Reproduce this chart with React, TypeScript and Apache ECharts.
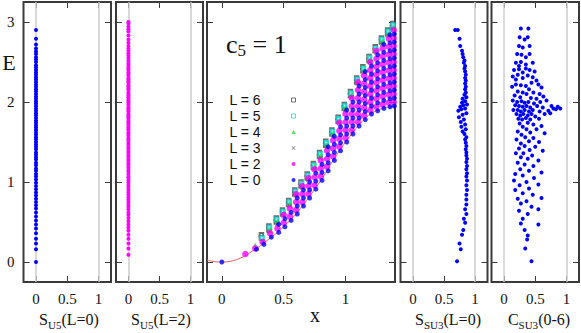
import React, { useEffect, useRef } from "react";
import * as echarts from "echarts";

// ---------------- data ----------------
const E_TICKS = [0, 1, 2, 3];
const SIDE_X_TICKS = [0, 0.5, 1];
const CENTER_X_TICKS = [0, 0.5, 1];

// L=0 energies (panel S_U5(L=0), all at S=0)
const E_L0 = [
  0, 0.16, 0.23, 0.29, 0.36, 0.42, 0.47, 0.52, 0.57, 0.62, 0.67, 0.71, 0.75, 0.79, 0.83, 0.87,
  0.91, 0.95, 0.99, 1.03, 1.07, 1.1, 1.14, 1.17, 1.21, 1.24, 1.28, 1.31, 1.34, 1.37, 1.41, 1.44,
  1.47, 1.5, 1.53, 1.56, 1.59, 1.62, 1.65, 1.68, 1.71, 1.74, 1.77, 1.8, 1.83, 1.86, 1.89, 1.92,
  1.95, 1.98, 2.01, 2.04, 2.07, 2.1, 2.13, 2.16, 2.19, 2.22, 2.25, 2.28, 2.31, 2.34, 2.37, 2.4,
  2.43, 2.46, 2.5, 2.53, 2.56, 2.6, 2.63, 2.67, 2.72, 2.79, 2.9,
];
const S_U5_L0 = 0;

// L=2 energies (panel S_U5(L=2), all at S=0)
const E_L2 = [
  0.09, 0.17, 0.23, 0.29, 0.34, 0.39, 0.43, 0.47, 0.51, 0.55, 0.59, 0.62, 0.66, 0.69, 0.72, 0.75,
  0.78, 0.81, 0.84, 0.87, 0.9, 0.93, 0.96, 0.99, 1.02, 1.05, 1.07, 1.1, 1.13, 1.15, 1.18, 1.21,
  1.23, 1.26, 1.28, 1.31, 1.33, 1.36, 1.38, 1.41, 1.43, 1.46, 1.48, 1.51, 1.53, 1.55, 1.58, 1.6,
  1.62, 1.65, 1.67, 1.69, 1.72, 1.74, 1.76, 1.79, 1.81, 1.83, 1.85, 1.88, 1.9, 1.92, 1.94, 1.97,
  1.99, 2.01, 2.03, 2.06, 2.08, 2.1, 2.12, 2.15, 2.17, 2.19, 2.21, 2.24, 2.26, 2.28, 2.3, 2.33,
  2.35, 2.37, 2.4, 2.42, 2.44, 2.47, 2.49, 2.52, 2.55, 2.58, 2.61, 2.64, 2.67, 2.7, 2.74, 2.78,
  2.83, 2.88, 2.91, 2.94, 2.98, 3.0,
];
const S_U5_L2 = 0;

// S_SU3(L=0): [S, E]
const S_SU3_L0: [number, number][] = [
  [0.71, 0.01], [0.77, 0.16], [0.75, 0.23], [0.79, 0.34], [0.81, 0.4], [0.84, 0.49], [0.82, 0.54],
  [0.86, 0.6], [0.84, 0.66], [0.86, 0.72], [0.86, 0.78], [0.86, 0.84], [0.87, 0.9], [0.86, 0.96],
  [0.87, 1.02], [0.86, 1.07], [0.87, 1.11], [0.86, 1.16], [0.87, 1.2], [0.86, 1.25], [0.87, 1.29],
  [0.86, 1.33], [0.86, 1.37], [0.85, 1.41], [0.86, 1.45], [0.85, 1.49], [0.84, 1.53], [0.86, 1.56],
  [0.83, 1.6], [0.8, 1.63], [0.85, 1.66], [0.78, 1.69], [0.84, 1.72], [0.77, 1.75], [0.82, 1.78],
  [0.74, 1.81], [0.8, 1.84], [0.86, 1.86], [0.73, 1.89], [0.78, 1.91], [0.84, 1.92], [0.76, 1.94],
  [0.81, 1.96], [0.87, 1.97], [0.79, 1.99], [0.84, 2.01], [0.8, 2.04], [0.86, 2.06], [0.83, 2.09],
  [0.85, 2.12], [0.84, 2.16], [0.85, 2.19], [0.84, 2.23], [0.85, 2.27], [0.84, 2.3], [0.85, 2.34],
  [0.84, 2.38], [0.83, 2.42], [0.84, 2.45], [0.82, 2.49], [0.83, 2.52], [0.81, 2.56], [0.8, 2.6],
  [0.79, 2.64], [0.76, 2.7], [0.75, 2.79], [0.72, 2.9], [0.68, 2.9],
];

// C_SU3(0-6): [C, E]
const C_SU3: [number, number][] = [
  [0.27, 2.92], [0.39, 2.92], [0.25, 2.81], [0.38, 2.81], [0.33, 2.78], [0.24, 2.7], [0.41, 2.7],
  [0.3, 2.68], [0.21, 2.6], [0.28, 2.59], [0.41, 2.6], [0.35, 2.56], [0.19, 2.49], [0.27, 2.5],
  [0.35, 2.47], [0.46, 2.49], [0.24, 2.45], [0.16, 2.4], [0.24, 2.41], [0.35, 2.42], [0.41, 2.4],
  [0.49, 2.38], [0.3, 2.37], [0.14, 2.32], [0.22, 2.34], [0.3, 2.3], [0.38, 2.33], [0.46, 2.31],
  [0.19, 2.28], [0.52, 2.27], [0.19, 2.22], [0.27, 2.21], [0.35, 2.2], [0.44, 2.24], [0.55, 2.22],
  [0.13, 2.19], [0.4, 2.16], [0.6, 2.18], [0.22, 2.13], [0.3, 2.12], [0.36, 2.1], [0.47, 2.12],
  [0.57, 2.1], [0.17, 2.08], [0.26, 2.06], [0.43, 2.05], [0.52, 2.04], [0.63, 2.07], [0.14, 2.02],
  [0.21, 2.0], [0.28, 2.01], [0.33, 1.99], [0.39, 2.0], [0.48, 1.98], [0.58, 2.0], [0.68, 2.02],
  [0.18, 1.96], [0.24, 1.95], [0.3, 1.94], [0.36, 1.95], [0.42, 1.93], [0.53, 1.95], [0.62, 1.93],
  [0.15, 1.9], [0.22, 1.9], [0.27, 1.88], [0.33, 1.9], [0.4, 1.88], [0.46, 1.9], [0.57, 1.88],
  [0.2, 1.85], [0.26, 1.83], [0.31, 1.85], [0.38, 1.83], [0.44, 1.85], [0.5, 1.82], [0.65, 1.85],
  [0.23, 1.79], [0.29, 1.78], [0.35, 1.8], [0.42, 1.78], [0.56, 1.79], [0.74, 1.86], [0.79, 1.92],
  [0.83, 1.91], [0.86, 1.94], [0.9, 1.92], [0.76, 1.95], [0.71, 1.89], [0.38, 1.74], [0.25, 1.73],
  [0.47, 1.72], [0.6, 1.7], [0.3, 1.69], [0.36, 1.66], [0.52, 1.66], [0.22, 1.63], [0.42, 1.62],
  [0.28, 1.59], [0.65, 1.61], [0.34, 1.56], [0.47, 1.55], [0.2, 1.53], [0.4, 1.51], [0.56, 1.5],
  [0.27, 1.48], [0.33, 1.45], [0.5, 1.44], [0.24, 1.42], [0.41, 1.4], [0.62, 1.39], [0.19, 1.36],
  [0.31, 1.36], [0.45, 1.33], [0.27, 1.31], [0.38, 1.29], [0.55, 1.27], [0.22, 1.24], [0.33, 1.22],
  [0.47, 1.2], [0.26, 1.16], [0.4, 1.14], [0.6, 1.12], [0.18, 1.1], [0.3, 1.08], [0.48, 1.05],
  [0.16, 1.02], [0.36, 1.0], [0.25, 0.96], [0.55, 0.97], [0.4, 0.92], [0.18, 0.9], [0.3, 0.86],
  [0.46, 0.84], [0.6, 0.8], [0.22, 0.79], [0.36, 0.76], [0.27, 0.73], [0.44, 0.69], [0.55, 0.66],
  [0.24, 0.64], [0.38, 0.6], [0.3, 0.54], [0.27, 0.48], [0.55, 0.47], [0.33, 0.4], [0.38, 0.33],
  [0.37, 0.28], [0.34, 0.17], [0.44, 0.01],
];

// central panel: lower boundary curve [x, E]
const LOWER_CURVE: [number, number][] = [
  [-0.12, 0.025], [-0.06, 0.006], [0, 0], [0.05, 0.004], [0.1, 0.02], [0.15, 0.05], [0.2, 0.09],
  [0.25, 0.14], [0.3, 0.19], [0.35, 0.25], [0.4, 0.31], [0.45, 0.37], [0.5, 0.44], [0.55, 0.52],
  [0.6, 0.6], [0.65, 0.7], [0.7, 0.8], [0.75, 0.91], [0.8, 1.02], [0.85, 1.14], [0.9, 1.27],
  [0.95, 1.39], [1.0, 1.5], [1.05, 1.6], [1.1, 1.7], [1.15, 1.78], [1.2, 1.85], [1.25, 1.89],
  [1.3, 1.92], [1.35, 1.94], [1.4, 1.95],
];

// central panel, L=0 states by column: [x, energies]
const L0_COLS: [number, number[]][] = [
  [0.0, [0.0]], [0.28, [0.16]], [0.34, [0.22]], [0.4, [0.31]], [0.46, [0.37, 0.47]],
  [0.51, [0.44, 0.54]], [0.56, [0.52, 0.62]], [0.61, [0.6, 0.7, 0.8]], [0.66, [0.7, 0.8, 0.9]],
  [0.71, [0.8, 0.9, 1.0]], [0.76, [0.91, 1.01, 1.11]], [0.81, [1.02, 1.12, 1.22]],
  [0.86, [1.14, 1.24, 1.34, 1.44]], [0.91, [1.27, 1.37, 1.47, 1.57]], [0.96, [1.39, 1.49, 1.59, 1.69]],
  [1.01, [1.5, 1.6, 1.7, 1.8, 1.9]], [1.06, [1.6, 1.7, 1.8, 1.9, 2.0]],
  [1.11, [1.7, 1.8, 1.9, 2.0, 2.1, 2.2]], [1.16, [1.78, 1.88, 1.98, 2.08, 2.18, 2.28, 2.38]],
  [1.21, [1.85, 1.95, 2.05, 2.15, 2.25, 2.35, 2.45]],
  [1.26, [1.89, 1.99, 2.09, 2.19, 2.29, 2.39, 2.49, 2.59]],
  [1.31, [1.92, 2.02, 2.12, 2.22, 2.32, 2.42, 2.52, 2.62, 2.72]],
  [1.36, [1.94, 2.04, 2.14, 2.24, 2.34, 2.44, 2.54, 2.64, 2.74, 2.84]],
  [1.395, [1.95, 2.05, 2.15, 2.25, 2.35, 2.45, 2.55, 2.65, 2.75, 2.85]],
];

// central panel, L=2 states by column
const L2_COLS: [number, number[]][] = [
  [0.19, [0.1]], [0.27, [0.17]], [0.33, [0.25]], [0.39, [0.36]], [0.45, [0.42]],
  [0.5, [0.49, 0.59]], [0.55, [0.57, 0.67]], [0.6, [0.65, 0.75, 0.85]], [0.65, [0.75, 0.85, 0.95]],
  [0.7, [0.85, 0.95, 1.05]], [0.75, [0.96, 1.06, 1.16]], [0.8, [1.07, 1.17, 1.27]],
  [0.85, [1.19, 1.29, 1.39]], [0.9, [1.32, 1.42, 1.52]], [0.95, [1.44, 1.54, 1.64, 1.74]],
  [1.0, [1.55, 1.65, 1.75, 1.85]], [1.05, [1.65, 1.75, 1.85, 1.95, 2.05]],
  [1.1, [1.75, 1.85, 1.95, 2.05, 2.15, 2.25]], [1.15, [1.83, 1.93, 2.03, 2.13, 2.23, 2.33]],
  [1.2, [1.9, 2.0, 2.1, 2.2, 2.3, 2.4, 2.5]], [1.25, [1.94, 2.04, 2.14, 2.24, 2.34, 2.44, 2.54, 2.64]],
  [1.3, [1.97, 2.07, 2.17, 2.27, 2.37, 2.47, 2.57, 2.67]],
  [1.35, [1.99, 2.09, 2.19, 2.29, 2.39, 2.49, 2.59, 2.69, 2.79]],
  [1.39, [2.0, 2.1, 2.2, 2.3, 2.4, 2.5, 2.6, 2.7, 2.8, 2.9]],
];

// central panel, L=3..6 states near the upper edge: [x, E]
const L3_PTS: [number, number][] = [
  [0.33, 0.26], [0.39, 0.38], [0.45, 0.48], [0.5, 0.58], [0.55, 0.7], [0.6, 0.83], [0.65, 0.93],
  [0.7, 1.03], [0.75, 1.16], [0.8, 1.3], [0.85, 1.44], [0.9, 1.58], [0.95, 1.74], [1.0, 1.9],
  [1.05, 2.06], [1.1, 2.23], [1.15, 2.37], [1.2, 2.5], [1.25, 2.62], [1.3, 2.73], [1.35, 2.83],
  [1.39, 2.91],
];
const L4_PTS: [number, number][] = [
  [0.27, 0.21], [0.33, 0.27], [0.39, 0.41], [0.45, 0.51], [0.5, 0.61], [0.55, 0.73], [0.6, 0.86],
  [0.65, 0.96], [0.7, 1.06], [0.75, 1.19], [0.8, 1.33], [0.85, 1.47], [0.9, 1.61], [0.95, 1.77],
  [1.0, 1.93], [1.05, 2.09], [1.1, 2.26], [1.15, 2.4], [1.2, 2.53], [1.25, 2.65], [1.3, 2.76],
  [1.35, 2.86], [1.39, 2.94],
];
const L5_PTS: [number, number][] = [
  [0.325, 0.3], [0.385, 0.43], [0.445, 0.53], [0.495, 0.63], [0.545, 0.75], [0.595, 0.88],
  [0.645, 0.98], [0.695, 1.08], [0.745, 1.21], [0.795, 1.35], [0.845, 1.49], [0.895, 1.63],
  [0.945, 1.79], [0.995, 1.95], [1.045, 2.11], [1.095, 2.28], [1.145, 2.42], [1.195, 2.55],
  [1.245, 2.67], [1.295, 2.78], [1.345, 2.88], [1.385, 2.96],
];
const L6_PTS: [number, number][] = [
  [0.32, 0.34], [0.32, 0.3], [0.38, 0.45], [0.38, 0.4], [0.44, 0.55], [0.44, 0.5], [0.49, 0.65],
  [0.49, 0.6], [0.54, 0.77], [0.54, 0.72], [0.59, 0.9], [0.59, 0.85], [0.64, 1.0], [0.64, 0.95],
  [0.69, 1.1], [0.69, 1.05], [0.74, 1.23], [0.74, 1.18], [0.79, 1.37], [0.79, 1.32], [0.84, 1.51],
  [0.84, 1.46], [0.89, 1.65], [0.89, 1.6], [0.94, 1.81], [0.94, 1.76], [0.99, 1.97], [0.99, 1.92],
  [1.04, 2.13], [1.04, 2.08], [1.09, 2.3], [1.09, 2.25], [1.14, 2.44], [1.14, 2.39], [1.19, 2.57],
  [1.19, 2.52], [1.24, 2.69], [1.24, 2.64], [1.29, 2.8], [1.29, 2.75], [1.34, 2.9], [1.34, 2.85],
  [1.38, 2.98], [1.38, 2.93],
];

const LEGEND_NAMES = ["L = 6", "L = 5", "L = 4", "L = 3", "L = 2", "L = 0"];

// ---------------- layout / style ----------------
const SERIF = "'Liberation Serif', 'DejaVu Serif', serif";
const SANS = "'Liberation Sans', 'DejaVu Sans', sans-serif";
const FRAME = "#3a3a3a";
const X_PATH = "path://M0,1L1,0L5,4L9,0L10,1L6,5L10,9L9,10L5,6L1,10L0,9L4,5Z";

const PANELS = [
  { left: 23.5, width: 87.5, xMin: -0.2, xMax: 1.2, ticks: SIDE_X_TICKS },
  { left: 116, width: 87, xMin: -0.2, xMax: 1.2, ticks: SIDE_X_TICKS },
  { left: 207, width: 188, xMin: -0.12, xMax: 1.4, ticks: CENTER_X_TICKS },
  { left: 400.5, width: 87, xMin: -0.2, xMax: 1.2, ticks: SIDE_X_TICKS },
  { left: 491.5, width: 87.5, xMin: -0.2, xMax: 1.2, ticks: SIDE_X_TICKS },
];

const colsToPoints = (cols: [number, number[]][]) =>
  cols.flatMap(([x, es]) => es.map((e) => [x, e]));

function buildOption() {
  const grid = PANELS.map((p) => ({
    left: p.left,
    width: p.width,
    top: 2,
    height: 280,
    show: true,
    borderColor: FRAME,
    borderWidth: 2,
    backgroundColor: "transparent",
  }));
  const xAxis: any[] = [];
  const yAxis: any[] = [];
  PANELS.forEach((p, i) => {
    const tick = (vals: number[]) => ({
      show: true,
      inside: true,
      length: 6,
      customValues: vals,
      lineStyle: { color: FRAME, width: 1 },
    });
    const line = { show: false, onZero: false };
    xAxis.push({
      gridIndex: i, type: "value", min: p.xMin, max: p.xMax, position: "bottom",
      axisLine: line, splitLine: { show: false }, axisTick: tick(p.ticks),
      axisLabel: {
        show: true, customValues: p.ticks, margin: 9, fontFamily: SERIF, fontSize: 15, color: "#111",
        formatter: (v: number) => String(v),
      },
    });
    xAxis.push({
      gridIndex: i, type: "value", min: p.xMin, max: p.xMax, position: "top",
      axisLine: line, splitLine: { show: false }, axisTick: tick(p.ticks),
      axisLabel: { show: false },
    });
    yAxis.push({
      gridIndex: i, type: "value", min: -0.25, max: 3.25, position: "left",
      axisLine: line, splitLine: { show: false }, axisTick: tick(E_TICKS),
      axisLabel: {
        show: i === 0, customValues: E_TICKS, margin: 9, fontFamily: SERIF, fontSize: 15, color: "#111",
      },
    });
    yAxis.push({
      gridIndex: i, type: "value", min: -0.25, max: 3.25, position: "right",
      axisLine: line, splitLine: { show: false }, axisTick: tick(E_TICKS),
      axisLabel: { show: false },
    });
  });

  const gridLines = {
    silent: true,
    z: 1,
    symbol: ["none", "none"],
    label: { show: false },
    lineStyle: { color: "#cdcdcd", width: 1.5, type: "solid" },
    data: [{ xAxis: 0 }, { xAxis: 1 }],
  };

  const side = (idx: number, data: number[][], color: string, name: string) => ({
    type: "scatter", name, xAxisIndex: idx * 2, yAxisIndex: idx * 2, data,
    symbol: "circle", symbolSize: 4, z: 3, silent: true,
    itemStyle: { color, opacity: 1 },
    markLine: gridLines,
  });

  const c = 4;
  const series: any[] = [
    side(0, E_L0.map((e) => [S_U5_L0, e]), "#0000ff", "S_U5 L0"),
    side(1, E_L2.map((e) => [S_U5_L2, e]), "#ff00ff", "S_U5 L2"),
    {
      type: "line", name: "lower", xAxisIndex: c, yAxisIndex: c, data: LOWER_CURVE,
      smooth: true, showSymbol: false, z: 2, silent: true,
      lineStyle: { color: "#f05a5a", width: 1 },
    },
    {
      type: "scatter", name: "L = 6", xAxisIndex: c, yAxisIndex: c, data: L6_PTS,
      symbol: "emptyRect", symbolSize: 3.5, z: 3, silent: true,
      itemStyle: { color: "#4a4a4a", borderWidth: 1 },
    },
    {
      type: "scatter", name: "L = 5", xAxisIndex: c, yAxisIndex: c, data: L5_PTS,
      symbol: "emptyRect", symbolSize: 3.5, z: 3, silent: true,
      itemStyle: { color: "#00e0e0", borderWidth: 1 },
    },
    {
      type: "scatter", name: "L = 4", xAxisIndex: c, yAxisIndex: c, data: L4_PTS,
      symbol: "triangle", symbolSize: 5, z: 3, silent: true,
      itemStyle: { color: "#22dd22" },
    },
    {
      type: "scatter", name: "L = 3", xAxisIndex: c, yAxisIndex: c, data: L3_PTS,
      symbol: X_PATH, symbolSize: 5, z: 3, silent: true,
      itemStyle: { color: "#555555" },
    },
    {
      type: "scatter", name: "L = 2", xAxisIndex: c, yAxisIndex: c, data: colsToPoints(L2_COLS),
      symbol: "circle", symbolSize: 6.5, z: 3, silent: true,
      itemStyle: { color: "#ff00ff" },
    },
    {
      type: "scatter", name: "L = 0", xAxisIndex: c, yAxisIndex: c, data: colsToPoints(L0_COLS),
      symbol: "circle", symbolSize: 5, z: 3, silent: true,
      itemStyle: { color: "#0000ff" },
    },
    side(3, S_SU3_L0, "#0000ff", "S_SU3 L0"),
    side(4, C_SU3, "#0000ff", "C_SU3"),
  ];

  const titleRich = (main: number, sub: number) => ({
    m: { fontFamily: SERIF, fontSize: main, lineHeight: 22, fill: "#111", verticalAlign: "middle" },
    s: { fontFamily: SERIF, fontSize: sub, lineHeight: 11, fill: "#111", verticalAlign: "bottom" },
  });

  const graphic: any[] = [
    {
      type: "text", x: 9, y: 62, silent: true,
      style: { text: "E", font: `22px ${SERIF}`, fill: "#111", align: "center", verticalAlign: "middle" },
    },
    {
      type: "text", x: 226, y: 44, silent: true,
      style: {
        text: "{m|c}{s|5}{m| = 1}", align: "left", verticalAlign: "middle",
        rich: {
          m: { fontFamily: SERIF, fontSize: 26, lineHeight: 30, fill: "#111", verticalAlign: "middle" },
          s: { fontFamily: SERIF, fontSize: 17, lineHeight: 7, fill: "#111", verticalAlign: "bottom" },
        },
      },
    },
    {
      type: "text", x: 315, y: 315, silent: true,
      style: { text: "x", font: `20px ${SERIF}`, fill: "#111", align: "center", verticalAlign: "middle" },
    },
    ...[
      { x: 69, t: "{m|S}{s|U5}{m|(L=0)}" },
      { x: 161, t: "{m|S}{s|U5}{m|(L=2)}" },
      { x: 448, t: "{m|S}{s|SU3}{m|(L=0)}" },
      { x: 539, t: "{m|C}{s|SU3}{m|(0-6)}" },
    ].map((d) => ({
      type: "text", x: d.x, y: 319, silent: true,
      style: { text: d.t, align: "center", verticalAlign: "middle", rich: titleRich(16, 11) },
    })),
  ];

  const legendIcons: Record<string, any> = {
    "L = 6": { icon: "rect", itemStyle: { color: "#ffffff", borderColor: "#4a4a4a", borderWidth: 1 } },
    "L = 5": { icon: "rect", itemStyle: { color: "#ffffff", borderColor: "#00e0e0", borderWidth: 1 } },
    "L = 4": { icon: "triangle", itemStyle: { color: "#22dd22", borderWidth: 0 } },
    "L = 3": { icon: X_PATH, itemStyle: { color: "#555555", borderWidth: 0 } },
    "L = 2": { icon: "circle", itemStyle: { color: "#ff00ff", borderWidth: 0 } },
    "L = 0": { icon: "circle", itemStyle: { color: "#0000ff", borderWidth: 0 } },
  };

  return {
    animation: false,
    backgroundColor: "#ffffff",
    grid,
    xAxis,
    yAxis,
    series,
    graphic,
    legend: {
      data: LEGEND_NAMES.map((n) => ({ name: n, ...legendIcons[n] })),
      orient: "vertical",
      left: 229,
      top: 93,
      padding: 0,
      itemGap: 2,
      align: "right",
      itemWidth: 4,
      itemHeight: 4,
      selectedMode: false,
      textStyle: { fontFamily: SANS, fontSize: 14, color: "#111", lineHeight: 13, padding: [0, 26, 0, 0] },
    },
  };
}

export default function App() {
  const ref = useRef<HTMLDivElement>(null);
  useEffect(() => {
    if (!ref.current) return;
    const chart = echarts.init(ref.current, null, { renderer: "svg" });
    chart.setOption(buildOption() as any);
    return () => chart.dispose();
  }, []);
  return (
    <div
      ref={ref}
      style={{ position: "absolute", left: 0, top: 0, width: 581, height: 333, background: "#fff" }}
    />
  );
}
